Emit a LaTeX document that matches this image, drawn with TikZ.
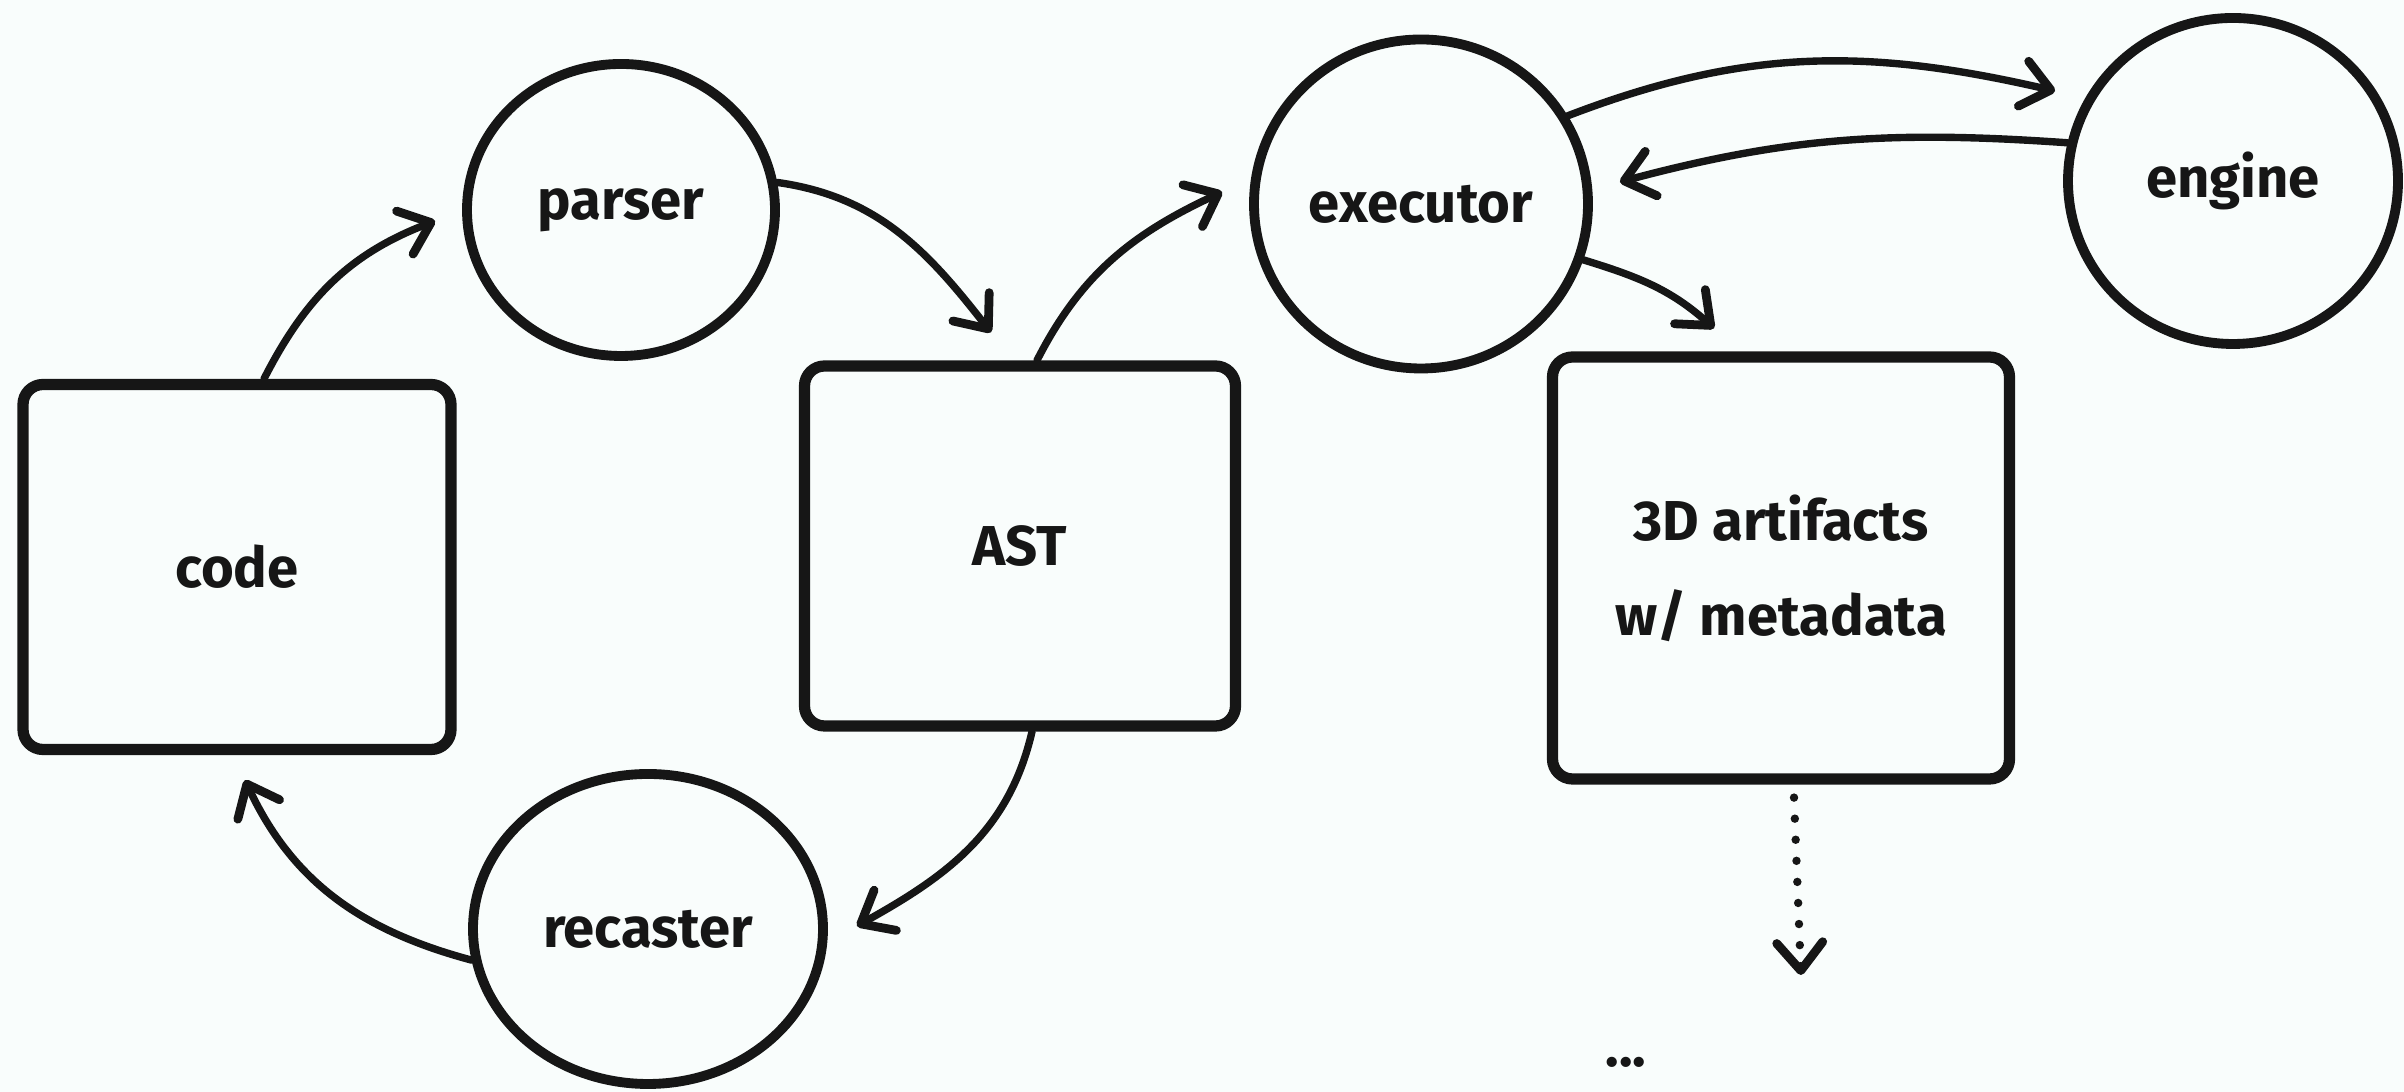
\documentclass[tikz,border=0pt]{standalone}
\usepackage{fontspec}
\setmainfont{Fira Sans}
\usetikzlibrary{shapes, arrows.meta, positioning}
\definecolor{paper}{RGB}{249,253,252}
\definecolor{ink}{RGB}{22,22,22}
\tikzstyle{box}=[draw,rectangle,rounded corners=2mm,line width=3.2pt]
\tikzstyle{bubble}=[draw,ellipse,line width=2.8pt,inner sep=0pt]
\tikzstyle{flow}=[->,line width=2.1pt,line cap=round]
\tikzstyle{every node}=[font=\fontsize{16}{27}\selectfont\bfseries]

\begin{document}
\begin{tikzpicture}[>={Straight Barb[length=2.8mm,width=4.6mm,line width=2.5pt,round]}, on grid, color=ink]
    \fill[paper] (0,0) rectangle (24.04,10.92);
    \useasboundingbox (0,0) rectangle (24.04,10.92);
    \node[box, minimum width=4.28cm, minimum height=3.65cm] (code) at (2.37,5.25) {code};
    \node[bubble, minimum width=3.08cm, minimum height=2.92cm, above right=3.57cm and 3.84cm of code] (parser) {parser};
    \node[box, minimum width=4.31cm, minimum height=3.60cm, below right=3.36cm and 3.99cm of parser] (AST) {AST};
    \node[bubble, minimum width=3.50cm, minimum height=3.10cm, below right=7.19cm and 0.27cm of parser] (recaster) {recaster};
    \node[bubble, minimum width=3.34cm, minimum height=3.29cm, above right=3.42cm and 4.01cm of AST] (executor) {executor};
    \node[bubble, minimum width=3.30cm, minimum height=3.26cm, above right=0.23cm and 8.12cm of executor] (engine) {engine};
    \node[box, minimum width=4.57cm, minimum height=4.22cm, align=center, below right=3.64cm and 3.60cm of executor] (art) {3D artifacts\\w/ metadata};
    \node[below left=4.94cm and 1.55cm of art] (more) {...};
    \coordinate (dotend) at (18.01,1.17);
    % the loop
    \draw[flow] ([xshift=2.7mm]code.north) to[out=63,in=201] ([xshift=-2.7mm,yshift=-1.1mm]parser.west);
    \draw[flow] (parser.10) to[out=-8,in=128] ([xshift=-2.9mm,yshift=2.8mm]AST.north);
    \draw[flow] ([xshift=1.2mm]AST.south) to[out=-103,in=29] ([xshift=2.9mm,yshift=0.3mm]recaster.east);
    \draw[flow] (recaster.190) to[out=165,in=-65] ([xshift=0.8mm,yshift=-2.5mm]code.south);
    % execution
    \draw[flow] ([xshift=1.7mm]AST.north) to[out=63,in=205] ([xshift=-2.7mm,yshift=1.2mm]executor.west);
    \draw[flow] (executor.31) to[out=21,in=167] ([xshift=-0.8mm,yshift=9mm]engine.west);
    \draw[flow] (engine.167) to[out=176,in=15] ([xshift=2.7mm,yshift=2.2mm]executor.east);
    \draw[flow] (executor.-19) to[out=-17,in=138] ([xshift=-6.7mm,yshift=2.3mm]art.north);
    \draw[flow, dash pattern=on 0pt off 6pt, line width=2.4pt] ([xshift=1.3mm,yshift=-1.3mm]art.south) -- (dotend);
\end{tikzpicture}
\end{document}
